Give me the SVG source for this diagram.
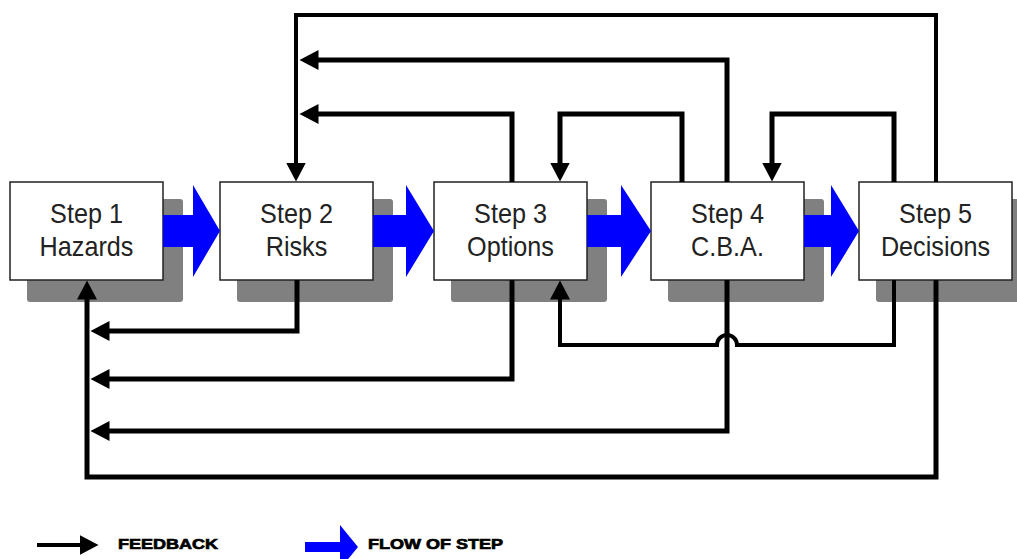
<svg xmlns="http://www.w3.org/2000/svg" width="1017" height="559" viewBox="0 0 1017 559">
<style>
.shadow{fill:#808080}
.box{fill:#fff;stroke:#222;stroke-width:1.5}
.lbl{font-family:"Liberation Sans",Arial,sans-serif;font-size:28px;fill:#222;text-anchor:middle}
.fb{fill:none;stroke:#000;stroke-width:5;stroke-linejoin:miter;marker-end:url(#ah)}
.fbt{stroke-width:4}
.flow{fill:#0000ff}
.leg{font-family:"Liberation Sans",Arial,sans-serif;font-size:15px;font-weight:bold;fill:#000;stroke:#000;stroke-width:0.7}
</style>
<defs>
<marker id="ah" viewBox="0 -10 20 20" refX="0.5" refY="0" markerWidth="20" markerHeight="20" markerUnits="userSpaceOnUse" orient="auto">
<path d="M0,-10 L19,0 L0,10 Z" fill="#000"/>
</marker>
</defs>
<rect width="1017" height="559" fill="#fff"/>
<g id="step1"><rect class="shadow" x="27" y="199" width="156" height="103" rx="3"/><rect class="box" x="10" y="182" width="153" height="98"/><text class="lbl" transform="translate(86.5,223) scale(0.9,1)">Step 1</text><text class="lbl" transform="translate(86.5,256) scale(0.9,1)">Hazards</text></g>
<g id="step2"><rect class="shadow" x="237" y="199" width="156" height="103" rx="3"/><rect class="box" x="220" y="182" width="153" height="98"/><text class="lbl" transform="translate(296.5,223) scale(0.9,1)">Step 2</text><text class="lbl" transform="translate(296.5,256) scale(0.9,1)">Risks</text></g>
<g id="step3"><rect class="shadow" x="451" y="199" width="156" height="103" rx="3"/><rect class="box" x="434" y="182" width="153" height="98"/><text class="lbl" transform="translate(510.5,223) scale(0.9,1)">Step 3</text><text class="lbl" transform="translate(510.5,256) scale(0.9,1)">Options</text></g>
<g id="step4"><rect class="shadow" x="668" y="199" width="156" height="103" rx="3"/><rect class="box" x="651" y="182" width="153" height="98"/><text class="lbl" transform="translate(727.5,223) scale(0.9,1)">Step 4</text><text class="lbl" transform="translate(727.5,256) scale(0.9,1)">C.B.A.</text></g>
<g id="step5"><rect class="shadow" x="876" y="199" width="156" height="103" rx="3"/><rect class="box" x="859" y="182" width="153" height="98"/><text class="lbl" transform="translate(935.5,223) scale(0.9,1)">Step 5</text><text class="lbl" transform="translate(935.5,256) scale(0.9,1)">Decisions</text></g>
<g id="connectors">
<path class="flow" d="M163,215 H193 V185 L220,231 L193,277 V247 H163 Z"/>
<path class="flow" d="M373,215 H406 V185 L434,231 L406,277 V247 H373 Z"/>
<path class="flow" d="M587,215 H621 V185 L651,231 L621,277 V247 H587 Z"/>
<path class="flow" d="M804,215 H831 V185 L859,231 L831,277 V247 H804 Z"/>
<path class="fb fbt" d="M936,182 V15 H296 V163"/>
<path class="fb" d="M727,182 V60 H318"/>
<path class="fb" d="M512,182 V114 H318"/>
<path class="fb" d="M682,182 V114 H560 V163"/>
<path class="fb" d="M894,182 V114 H772 V163"/>
<path class="fb" d="M297,280 V331 H109"/>
<path class="fb" d="M512,280 V379 H109"/>
<path class="fb" d="M727,280 V431 H109"/>
<path class="fb" d="M936,280 V477 H87 V299"/>
<path class="fb fbt" d="M894,280 V345 H737 A10,10 0 0 0 717,345 H560 V299"/>
</g>
<g id="legend">
<path class="fb fbt" d="M37,545 H80"/>
<text class="leg" x="118" y="549" textLength="100" lengthAdjust="spacingAndGlyphs">FEEDBACK</text>
<path class="flow" d="M305,542 H340 V525 L358,547 L340,569 V552 H305 Z"/>
<text class="leg" x="368" y="549" textLength="135" lengthAdjust="spacingAndGlyphs">FLOW OF STEP</text>
</g>
</svg>
